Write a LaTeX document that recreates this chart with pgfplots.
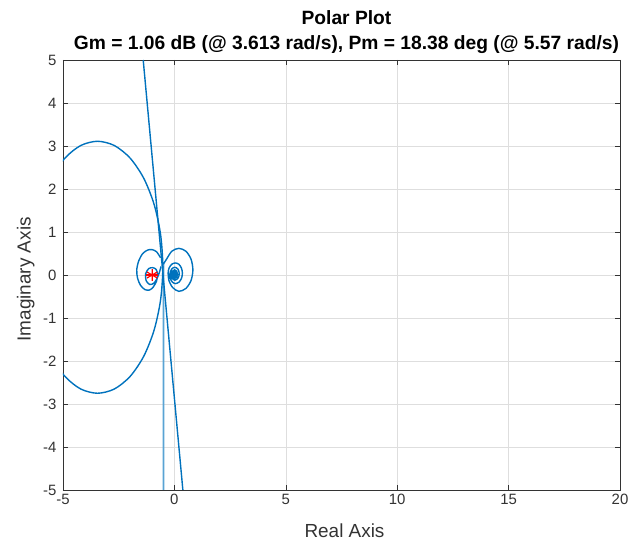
\documentclass[border=0pt]{standalone}
\usepackage{fontspec}
\setmainfont{Liberation Sans}
\usepackage{pgfplots}
\pgfplotsset{compat=1.18}
\definecolor{mblue}{rgb}{0,0.447,0.741}
\tikzset{nq/.style={mblue, no markers, line width=1.4bp}}
\begin{document}
\begin{tikzpicture}
\begin{axis}[
 scale only axis, width=557bp, height=430bp,
 xmin=-5,xmax=20,ymin=-5,ymax=5,
 xtick={-5,0,5,10,15,20}, ytick={-5,-4,-3,-2,-1,0,1,2,3,4,5},
 grid=major, major grid style={black!13, line width=0.5pt},
 tick align=inside, axis line style={black!80, line width=0.6pt},
 major tick length=5bp, tick style={black!80, line width=0.6pt},
 ticklabel style={font=\fontsize{15}{17}\selectfont, text=black!80},
 yticklabel style={xshift=-3bp},
 xticklabel style={yshift=-1bp},
 /pgf/number format/assume math mode=true,
 xlabel={Real Axis}, ylabel={Imaginary Axis},
 xlabel style={at={(rel axis cs:0.5054,-0.1116)}, anchor=base, inner sep=0pt, font=\fontsize{19}{22}\selectfont, text=black!80},
 ylabel style={at={(rel axis cs:-0.0580,0.49)}, anchor=base, inner sep=0pt, font=\fontsize{19}{22}\selectfont, text=black!80},
 title={Polar Plot\\Gm = 1.06 dB (@ 3.613 rad/s), Pm = 18.38 deg (@ 5.57 rad/s)},
 title style={at={(rel axis cs:0.5,1)}, anchor=south, inner sep=0pt, yshift=0.5bp, xshift=5bp, font=\bfseries\fontsize{19.3}{25}\selectfont, align=center},
]
% vertical line
\addplot[mblue!65, no markers, line width=1.9bp] coordinates {(-0.491,-5) (-0.490,-2) (-0.489,0.3)};
% steep line
\addplot[nq] coordinates {(-1.40,5) (0.38,-5)};
% large circle
\addplot[nq, smooth] coordinates {
(-5.987,1.645) (-5.522,2.252) (-4.915,2.717) (-4.209,3.01) (-3.45,3.11) (-2.691,3.01) (-1.985,2.717) (-1.378,2.252) (-0.913,1.645) (-0.62,0.94) (-0.52,0.18) (-0.62,-0.579) (-0.913,-1.285) (-1.378,-1.892) (-1.985,-2.357) (-2.691,-2.65) (-3.45,-2.75) (-4.209,-2.65) (-4.915,-2.357) (-5.522,-1.892) (-5.987,-1.285)};
% left loop
\addplot[nq, smooth] coordinates {
(-0.62,0.40) (-0.80,0.54) (-1.0,0.59) (-1.2,0.58) (-1.42,0.50) (-1.60,0.33) (-1.69,0.12) (-1.65,-0.08) (-1.52,-0.24) (-1.32,-0.34) (-1.12,-0.35) (-0.95,-0.28) (-0.80,-0.14) (-0.76,0.02) (-0.82,0.13) (-0.97,0.17) (-1.15,0.15) (-1.29,0.03) (-1.27,-0.13) (-1.11,-0.22) (-0.92,-0.19) (-0.78,-0.08) (-0.68,0.05) (-0.60,0.20)};
% right spiral
\addplot[nq, smooth] coordinates {
(-0.50,0.25) (-0.35,0.37) (-0.115,0.553) (0.2,0.62) (0.515,0.553) (0.746,0.37) (0.83,0.12) (0.746,-0.13) (0.515,-0.313) (0.2,-0.38) (-0.08,-0.29) (-0.25,-0.12) (-0.28,0.05)
(-0.24,0.16) (-0.12,0.25) (0.04,0.28) (0.2,0.25) (0.317,0.16) (0.36,0.04) (0.317,-0.08) (0.2,-0.168) (0.04,-0.2) (-0.10,-0.16) (-0.19,-0.07) (-0.2,0.03)
(-0.12,0.14) (0.02,0.18) (0.16,0.136) (0.22,0.03) (0.16,-0.076) (0.02,-0.12) (-0.12,-0.07) (-0.16,0.03)
(-0.08,0.09) (0.01,0.12) (0.10,0.09) (0.14,0.02) (0.10,-0.05) (0.01,-0.08) (-0.08,-0.05) (-0.10,0.02)
(-0.05,0.056) (0.01,0.075) (0.066,0.056) (0.09,0.01) (0.066,-0.036) (0.01,-0.055) (-0.047,-0.036) (-0.06,0.01)
(-0.02,0.04) (0.01,0.05) (0.045,0.035) (0.055,0.01) (0.035,-0.02) (0.01,-0.03) (-0.02,-0.015) (-0.03,0.01)
(0.01,0.03) (0.03,0.01) (0.01,-0.01) (0,0.01) (0.01,0.01)};
% critical point
\addplot[only marks, mark=asterisk, mark size=6pt, red, line width=1.2bp] coordinates {(-1,0)};
\addplot[only marks, mark=+, mark size=6pt, red, line width=1.2bp] coordinates {(-1,0)};
\coordinate (sw) at (rel axis cs:0,0);
\end{axis}
\path (sw) ++(-63bp,-60bp) rectangle ++(638bp,550bp);
\end{tikzpicture}
\end{document}
